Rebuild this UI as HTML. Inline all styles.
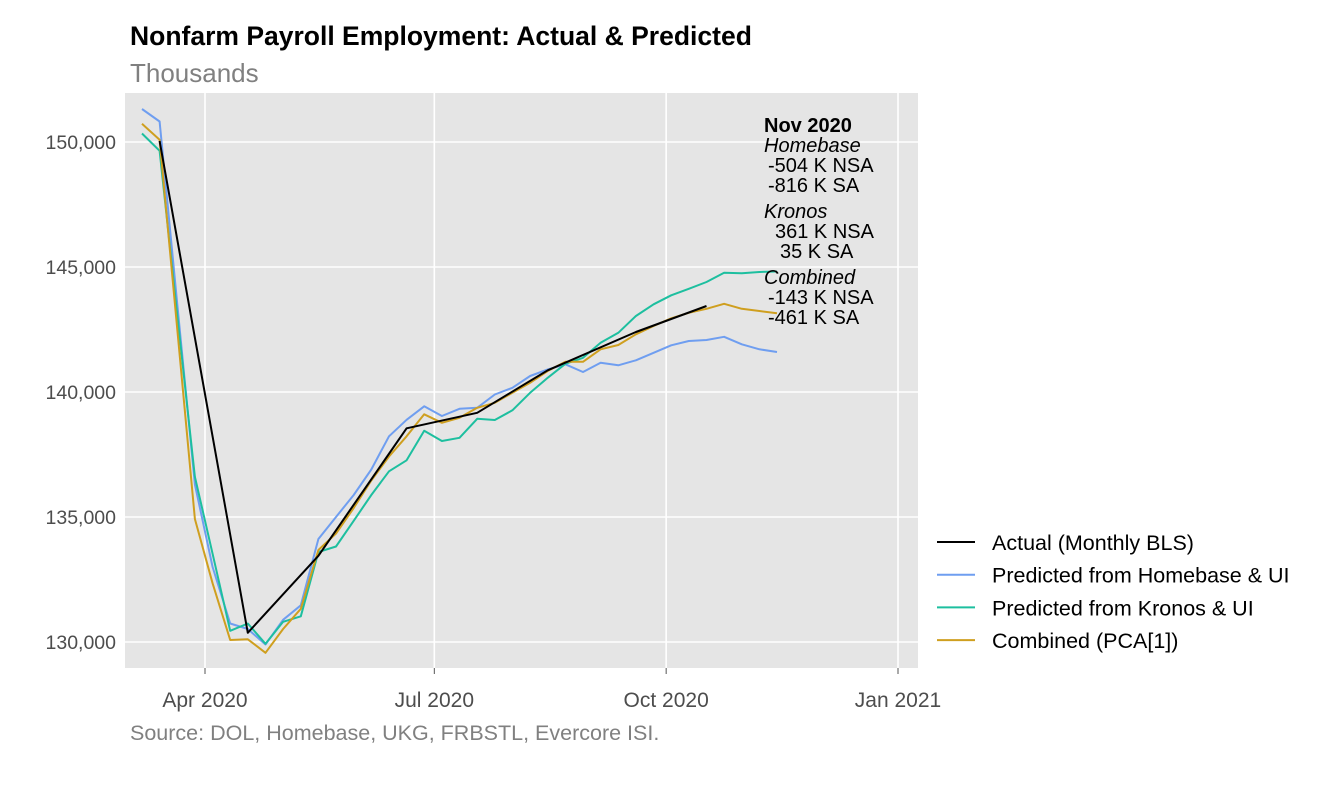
<!DOCTYPE html>
<html><head><meta charset="utf-8"><style>
body{margin:0;background:#fff;width:1328px;height:783px;overflow:hidden;font-family:"Liberation Sans",sans-serif}
svg text{font-family:"Liberation Sans",sans-serif}
</style></head><body>
<svg id="chart" width="1328" height="783">
<text x="130" y="45" font-size="26.5" font-weight="bold" fill="#000">Nonfarm Payroll Employment: Actual &amp; Predicted</text>
<text x="130" y="82" font-size="26" fill="#808080">Thousands</text>
<rect x="125" y="93" width="793" height="575" fill="#e5e5e5"/>
<g id="grid"></g><g id="series"></g>
<text x="130" y="740" font-size="21.5" fill="#808080">Source: DOL, Homebase, UKG, FRBSTL, Evercore ISI.</text>
<g font-size="20" fill="#000">
<text x="764" y="132" font-weight="bold">Nov 2020</text>
<text x="764" y="152" font-style="italic">Homebase</text>
<text x="768" y="172">-504 K NSA</text>
<text x="768" y="192">-816 K SA</text>
<text x="764" y="218" font-style="italic">Kronos</text>
<text x="775" y="238">361 K NSA</text>
<text x="780" y="258">35 K SA</text>
<text x="764" y="284" font-style="italic">Combined</text>
<text x="768" y="304">-143 K NSA</text>
<text x="768" y="324">-461 K SA</text>
</g>
<g id="legend"></g>
</svg>
<script>
const weeks=["2020-03-07","2020-03-14","2020-03-21","2020-03-28","2020-04-04","2020-04-11","2020-04-18","2020-04-25","2020-05-02","2020-05-09","2020-05-16","2020-05-23","2020-05-30","2020-06-06","2020-06-13","2020-06-20","2020-06-27","2020-07-04","2020-07-11","2020-07-18","2020-07-25","2020-08-01","2020-08-08","2020-08-15","2020-08-22","2020-08-29","2020-09-05","2020-09-12","2020-09-19","2020-09-26","2020-10-03","2020-10-10","2020-10-17","2020-10-24","2020-10-31","2020-11-07","2020-11-14"];
const homebase=[151320,150820,143500,136300,133000,130740,130520,129900,130890,131470,134120,135000,135880,136900,138230,138890,139430,139040,139330,139370,139900,140170,140640,140900,141110,140800,141170,141070,141270,141570,141870,142040,142080,142210,141910,141710,141600];
const kronos=[150340,149650,143070,136610,133530,130450,130740,129930,130810,131030,133600,133820,134850,135880,136830,137270,138450,138040,138170,138930,138880,139270,139970,140570,141130,141370,141970,142370,143040,143510,143870,144130,144400,144770,144750,144800,144820];
const combined=[150730,150090,142500,134920,132350,130080,130110,129570,130520,131330,133680,134340,135360,136460,137420,138230,139110,138770,138970,139370,139570,139970,140370,140840,141210,141210,141710,141880,142310,142640,142950,143170,143330,143530,143330,143240,143150];
const actualDates=["2020-03-14","2020-04-18","2020-05-16","2020-06-20","2020-07-18","2020-08-15","2020-09-19","2020-10-17"];
const actual=[150040,130370,133450,138550,139170,140870,142400,143440];
const yTicks=[130000,135000,140000,145000,150000];
const xTickDates=["2020-04-01","2020-07-01","2020-10-01","2021-01-01"];
const xTickLabels=["Apr 2020","Jul 2020","Oct 2020","Jan 2021"];
const seriesNames=["Actual (Monthly BLS)","Predicted from Homebase & UI","Predicted from Kronos & UI","Combined (PCA[1])"];
const seriesColors=["#000000","#6f9ef0","#1dbf9f","#cf9f1f"];

const NS="http://www.w3.org/2000/svg";
const base=Date.UTC(2020,3,1);
function days(s){const p=s.split("-");return (Date.UTC(+p[0],+p[1]-1,+p[2])-base)/86400000;}
function xS(s){return 205+days(s)*2.52;}
function yS(v){return 142+(150000-v)*0.025;}
function mk(tag,attrs,parent){const e=document.createElementNS(NS,tag);for(const k in attrs)e.setAttribute(k,attrs[k]);parent.appendChild(e);return e;}
const svg=document.getElementById("chart");
const grid=document.getElementById("grid");
yTicks.forEach(v=>{
  const l=mk("line",{x1:125,x2:918,y1:yS(v),y2:yS(v),stroke:"#fff","stroke-width":1.6},grid);
  
  
  const t=mk("text",{x:116,y:yS(v)+7,"text-anchor":"end","font-size":19.5,fill:"#4d4d4d"},svg);
  t.textContent=v.toLocaleString("en-US");
  
  
});
xTickDates.forEach((d,i)=>{
  const l=mk("line",{x1:xS(d),x2:xS(d),y1:93,y2:668,stroke:"#fff","stroke-width":1.6},grid);
  
  
  const tk=mk("line",{x1:xS(d),x2:xS(d),y1:668,y2:674,stroke:"#555","stroke-width":1},svg);
  
  
  const t=mk("text",{x:xS(d),y:707,"text-anchor":"middle","font-size":21,fill:"#4d4d4d"},svg);
  t.textContent=xTickLabels[i];
  
  
});
const ser=document.getElementById("series");
function line(dates,vals,color,name){
  const pts=dates.map((d,i)=>xS(d).toFixed(1)+","+yS(vals[i]).toFixed(1)).join(" ");
  const p=mk("polyline",{points:pts,fill:"none",stroke:color,"stroke-width":2,"stroke-linejoin":"round"},ser);
  
  
}
line(weeks,homebase,seriesColors[1],"homebase-line");
line(weeks,kronos,seriesColors[2],"kronos-line");
line(weeks,combined,seriesColors[3],"combined-line");
line(actualDates,actual,seriesColors[0],"actual-line");
const lg=document.getElementById("legend");
seriesNames.forEach((n,i)=>{
  const y=542+i*32.7;
  const l=mk("line",{x1:937,x2:975,y1:y,y2:y,stroke:seriesColors[i],"stroke-width":2},lg);
  
  
  const t=mk("text",{x:992,y:y+8,"font-size":21.5,fill:"#000"},lg);
  t.textContent=n;
  
  
});
</script>
</body></html>
